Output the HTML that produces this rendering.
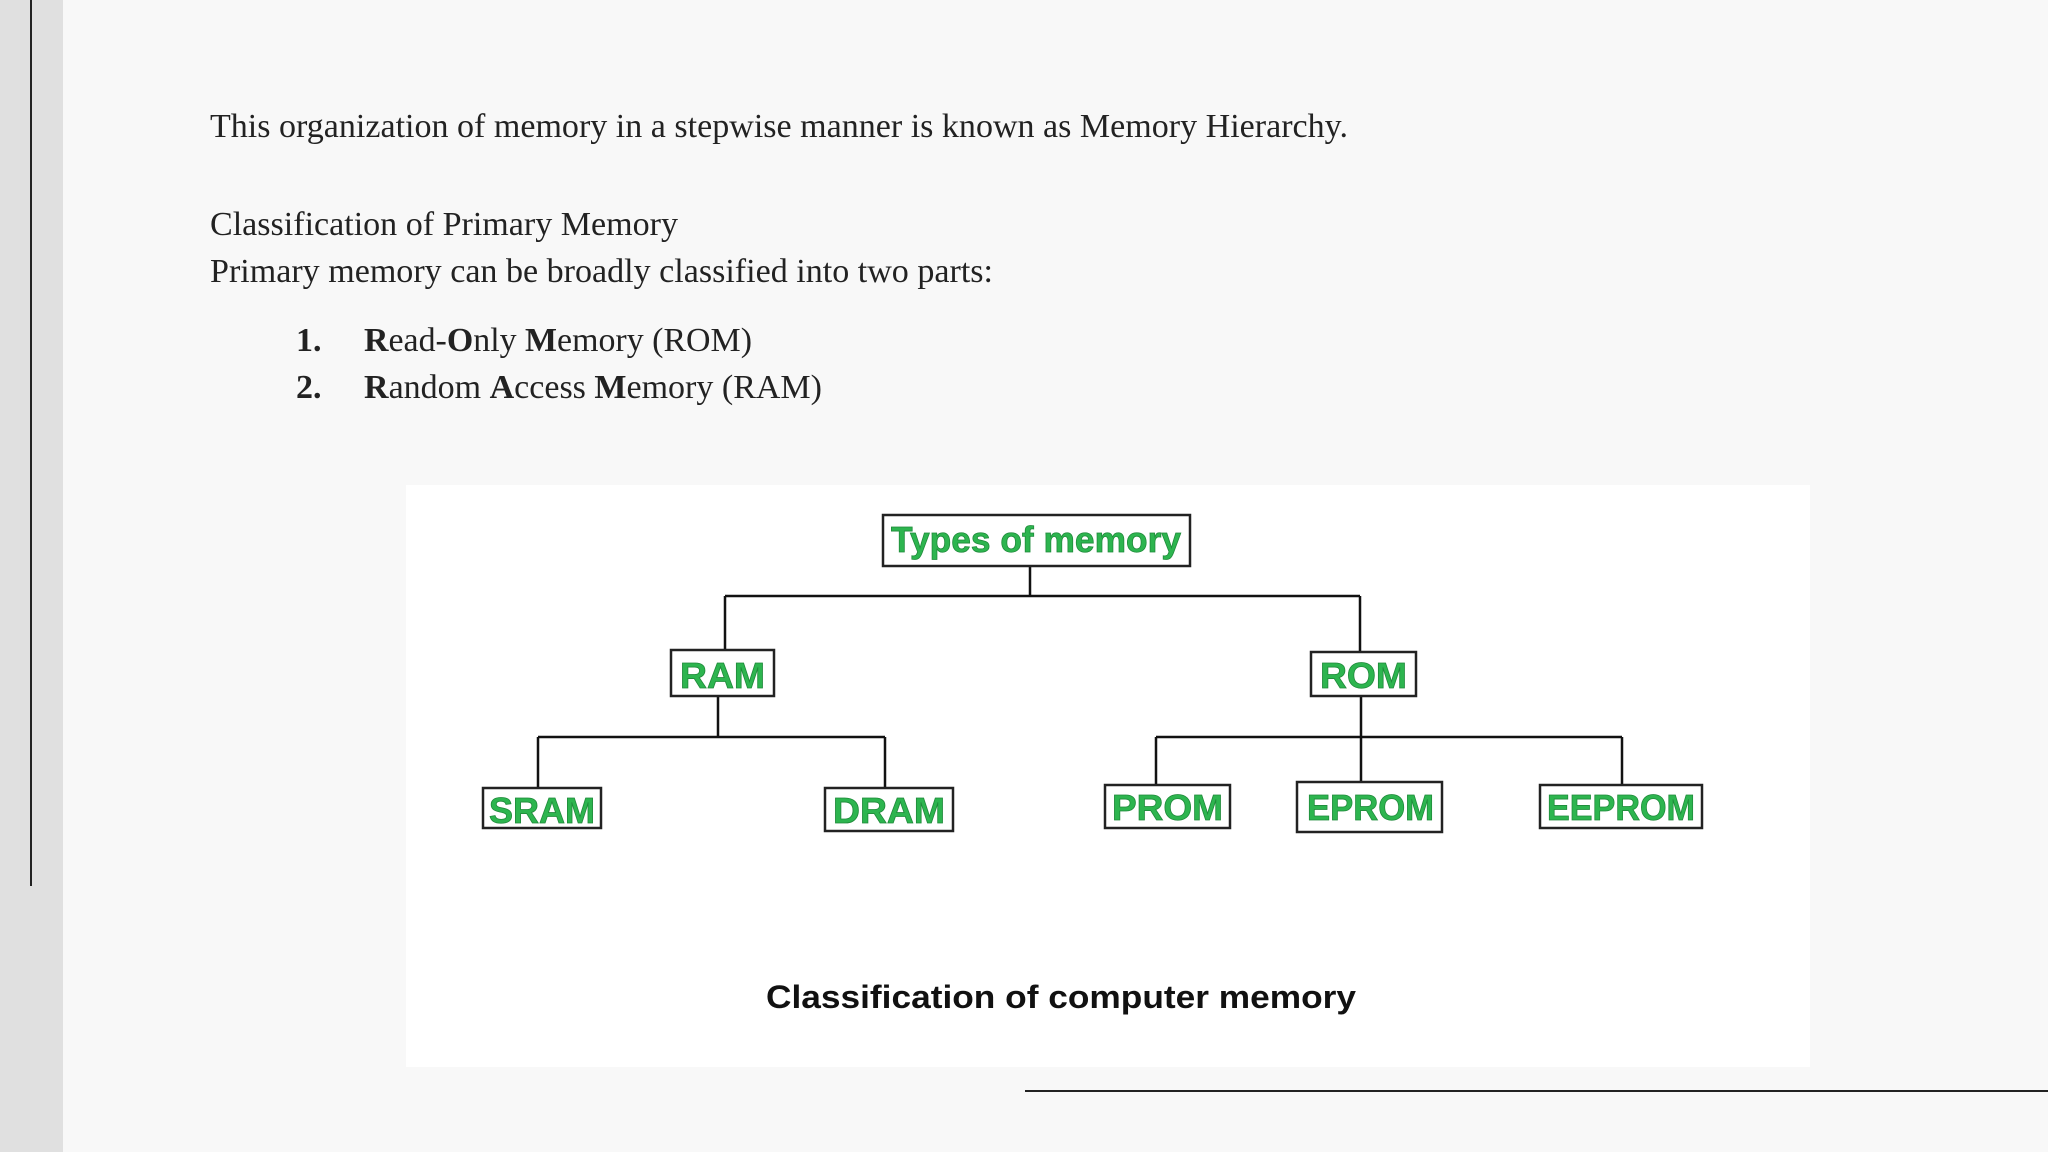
<!DOCTYPE html>
<html><head><meta charset="utf-8"><style>html,body{margin:0;padding:0;background:#f8f8f8}svg{display:block}</style></head>
<body>
<svg width="2048" height="1152" viewBox="0 0 2048 1152" xmlns="http://www.w3.org/2000/svg">
<rect width="2048" height="1152" fill="#f8f8f8"/>
<rect x="0" y="0" width="63" height="1152" fill="#e0e0e0"/>
<line x1="31" y1="0" x2="31" y2="886" stroke="#222" stroke-width="2"/>
<g font-family="Liberation Serif, serif" font-size="34" fill="#222">
<text x="210" y="137" textLength="1138" lengthAdjust="spacingAndGlyphs">This organization of memory in a stepwise manner is known as Memory Hierarchy.</text>
<text x="210" y="235" textLength="468" lengthAdjust="spacingAndGlyphs">Classification of Primary Memory</text>
<text x="210" y="282" textLength="783" lengthAdjust="spacingAndGlyphs">Primary memory can be broadly classified into two parts:</text>
<text x="296" y="351" font-weight="bold">1.</text>
<text x="296" y="398" font-weight="bold">2.</text>
<text x="364" y="351" textLength="388" lengthAdjust="spacingAndGlyphs"><tspan font-weight="bold">R</tspan>ead-<tspan font-weight="bold">O</tspan>nly <tspan font-weight="bold">M</tspan>emory (ROM)</text>
<text x="364" y="398" textLength="458" lengthAdjust="spacingAndGlyphs"><tspan font-weight="bold">R</tspan>andom <tspan font-weight="bold">A</tspan>ccess <tspan font-weight="bold">M</tspan>emory (RAM)</text>
</g>
<rect x="406" y="485" width="1404" height="582" fill="#ffffff"/>
<line x1="1025" y1="1091" x2="2048" y2="1091" stroke="#222" stroke-width="2"/>
<g stroke="#111" stroke-width="2.5" fill="none">
<path d="M1030 566 V597 M725 596 H1360 M725 596 V650 M1360 596 V652"/>
<path d="M718 696 V737 M538 737 H885 M538 737 V788 M885 737 V788"/>
<path d="M1361 696 V782 M1156 737 H1622 M1156 737 V785 M1622 737 V785"/>
</g>
<g fill="#fff" stroke="#222" stroke-width="2.5">
<rect x="883" y="515" width="307" height="51"/>
<rect x="671" y="650" width="103" height="46"/>
<rect x="1311" y="652" width="105" height="44"/>
<rect x="483" y="788" width="118" height="40"/>
<rect x="825" y="788" width="128" height="43"/>
<rect x="1105" y="785" width="125" height="43"/>
<rect x="1297" y="782" width="145" height="50"/>
<rect x="1540" y="785" width="162" height="43"/>
</g>
<g font-family="Liberation Sans, sans-serif" font-weight="bold" font-size="36" fill="#2db54f" stroke="#1f8a3a" stroke-width="0.8" lengthAdjust="spacingAndGlyphs">
<text x="891" y="552" textLength="290" lengthAdjust="spacingAndGlyphs">Types of memory</text>
<text x="680" y="688" textLength="85" lengthAdjust="spacingAndGlyphs">RAM</text>
<text x="1320" y="688" textLength="87" lengthAdjust="spacingAndGlyphs">ROM</text>
<text x="489" y="823" textLength="106" lengthAdjust="spacingAndGlyphs">SRAM</text>
<text x="833" y="823" textLength="112" lengthAdjust="spacingAndGlyphs">DRAM</text>
<text x="1112" y="820" textLength="111" lengthAdjust="spacingAndGlyphs">PROM</text>
<text x="1307" y="820" textLength="127" lengthAdjust="spacingAndGlyphs">EPROM</text>
<text x="1547" y="820" textLength="148" lengthAdjust="spacingAndGlyphs">EEPROM</text>
</g>
<text x="766" y="1008" font-family="Liberation Sans, sans-serif" font-weight="bold" font-size="32" fill="#111" textLength="590" lengthAdjust="spacingAndGlyphs">Classification of computer memory</text>
</svg>
</body></html>
